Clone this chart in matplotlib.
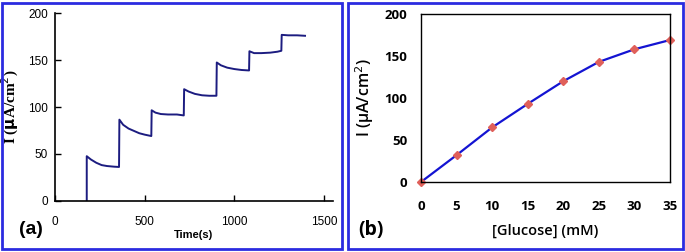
"""Amperometric response (a) and calibration curve (b)."""

import matplotlib
matplotlib.use("Agg")
import matplotlib.pyplot as plt
from matplotlib.patches import Rectangle

# (a) current vs time
time_s = [177, 177, 200, 230, 260, 290, 330, 357,
          359, 380, 410, 440, 470, 500, 537,
          539, 560, 590, 630, 680, 718,
          720, 745, 780, 820, 860, 900,
          902, 925, 960, 1000, 1040, 1082,
          1084, 1110, 1150, 1200, 1240, 1262,
          1264, 1300, 1350, 1394]
current_a = [0, 47.5, 44, 40.5, 38, 37, 36.3, 36,
             86.5, 81, 77, 74.5, 72, 70.5, 69,
             96.5, 94, 92.5, 92, 92, 91,
             119, 116.5, 114, 112.5, 112, 112,
             147.5, 144.5, 142, 140.5, 139.5, 139,
             159.5, 157.5, 157.5, 158, 159, 160,
             177, 176.5, 176.5, 176]

# (b) calibration
glucose_mM = [0, 5, 10, 15, 20, 25, 30, 35]
current_b = [0, 32, 65, 93, 120, 143, 158, 169]

fig = plt.figure(figsize=(6.85, 2.52), dpi=100)

# panel frames
for x0, w in [(2 / 685, 340 / 685), (348 / 685, 335 / 685)]:
    fig.patches.append(Rectangle((x0, 3 / 252), w, 246 / 252, transform=fig.transFigure,
                                 fill=False, edgecolor="#2b2be0", linewidth=2))

# ---- (a)
ax1 = fig.add_axes([55 / 685, 1 - 200.7 / 252, (333 - 55) / 685, (200.7 - 13.3) / 252])
ax1.plot(time_s, current_a, color="#1c1c80", linewidth=1.4)
ax1.set_xlim(0, 1550)
ax1.set_ylim(0, 200)
ax1.set_xticks([0, 500, 1000, 1500])
ax1.set_yticks([0, 50, 100, 150, 200])
for s in ("top", "right"):
    ax1.spines[s].set_visible(False)
for s in ("left", "bottom"):
    ax1.spines[s].set_linewidth(1.2)
ax1.tick_params(axis="both", direction="in", length=4, width=1, labelsize=8.5)
ax1.tick_params(axis="x", pad=11)
ax1.tick_params(axis="y", pad=5)
for lab in ax1.get_xticklabels() + ax1.get_yticklabels():
    lab.set_family("Liberation Sans")
ax1.set_xlabel("Time(s)", family="Liberation Sans", fontweight="bold", fontsize=8,
               va="center")
ax1.xaxis.set_label_coords(0.5, -0.185)
ax1.set_ylabel(r"I ($\mathbf{\mu}$A/cm$^{2}$)", family="Liberation Serif", fontweight="bold",
               fontsize=11, va="center")
ax1.yaxis.set_label_coords(-0.16, 0.5)
fig.text(31 / 685, 1 - 230 / 252, "(a)", fontsize=14, fontweight="bold",
         family="Liberation Sans", ha="center", va="center")

# ---- (b)
ax2 = fig.add_axes([421 / 685, 1 - 182 / 252, (670 - 421) / 685, (182 - 14) / 252])
ax2.plot(glucose_mM, current_b, color="#1414d2", linewidth=1.6, clip_on=False,
         marker="D", markersize=4.5, markerfacecolor="#e0605a", markeredgecolor="#e0605a")
ax2.set_xlim(0, 35)
ax2.set_ylim(0, 200)
ax2.set_xticks(range(0, 36, 5))
ax2.set_yticks([0, 50, 100, 150, 200])
for s in ax2.spines.values():
    s.set_linewidth(1)
ax2.tick_params(axis="both", length=0, labelsize=9.5)
ax2.tick_params(axis="x", pad=13)
ax2.tick_params(axis="y", pad=10)
for lab in ax2.get_xticklabels() + ax2.get_yticklabels():
    lab.set_family("Open Sans")
    lab.set_fontweight("bold")
ax2.set_xlabel("[Glucose] (mM)", family="Open Sans", fontweight="semibold", fontsize=10.5,
               va="center")
ax2.xaxis.set_label_coords(0.5, -0.29)
ax2.set_ylabel("I (µA/cm$^2$)", family="Open Sans", fontweight="semibold", fontsize=11.5,
               va="center")
ax2.yaxis.set_label_coords(-0.225, 0.5)
fig.text(371 / 685, 1 - 230 / 252, "(b)", fontsize=14, fontweight="bold",
         family="Open Sans", ha="center", va="center")

fig.savefig("out.png", dpi=100)
